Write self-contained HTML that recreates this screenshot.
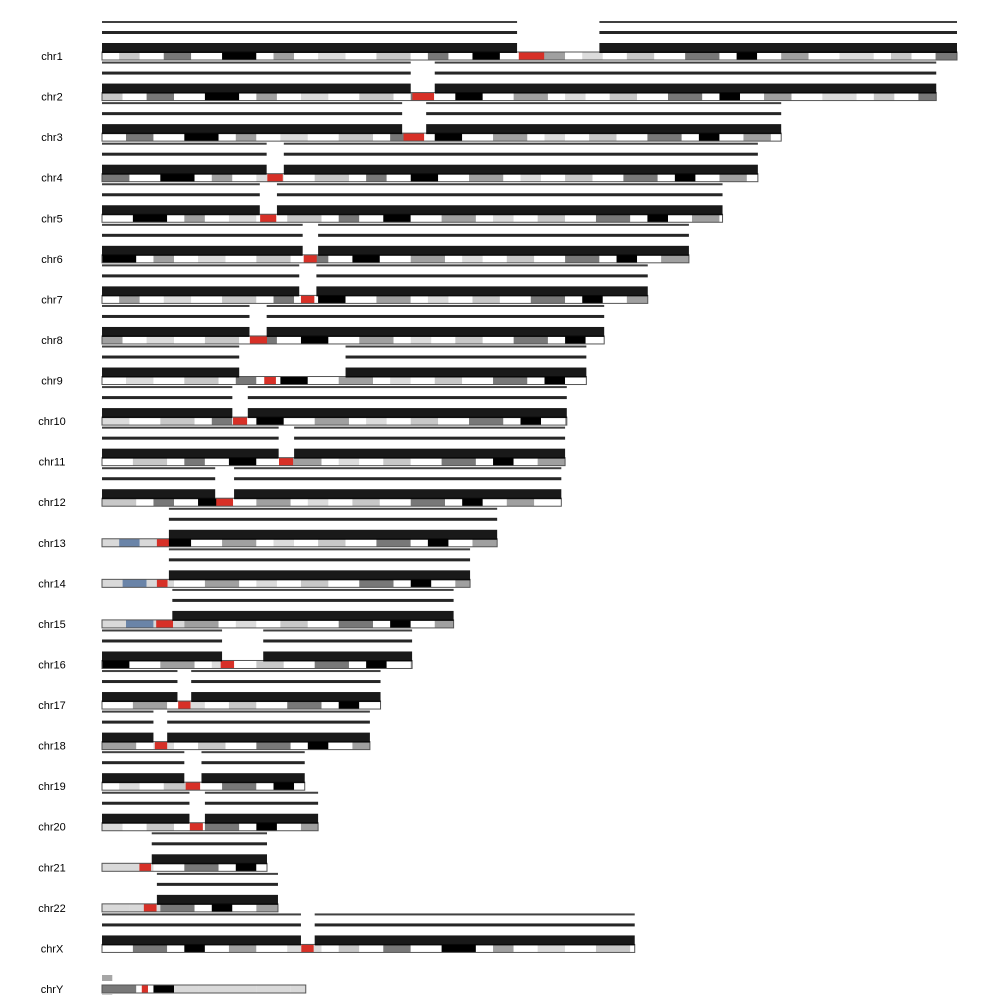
<!DOCTYPE html>
<html><head><meta charset="utf-8">
<style>
html,body{margin:0;padding:0;background:#fff;}
svg{display:block;font-family:"Liberation Sans",sans-serif;}
</style></head>
<body>
<svg id="plot" width="1008" height="1008" viewBox="0 0 1008 1008" xmlns="http://www.w3.org/2000/svg"></svg>
<script>
const chrNames = ["chr1","chr2","chr3","chr4","chr5","chr6","chr7","chr8","chr9","chr10","chr11","chr12","chr13","chr14","chr15","chr16","chr17","chr18","chr19","chr20","chr21","chr22","chrX","chrY"];
const chrLengths = [249.25,243.2,198.0,191.2,180.9,171.1,159.1,146.4,141.2,135.5,135.0,133.9,115.2,107.3,102.5,90.4,81.2,78.1,59.1,63.0,48.1,51.3,155.3,59.4];
const centroStart = [121.5,90.5,87.9,48.2,46.1,58.8,58.0,43.1,47.3,38.2,51.6,33.3,16.0,16.0,15.8,34.6,22.2,15.4,24.4,25.6,10.9,12.2,58.1,11.6];
const centroEnd = [128.9,96.8,93.9,52.7,50.8,62.6,61.9,48.1,50.7,42.3,55.7,38.2,19.5,19.1,20.7,38.5,25.8,19.0,28.6,29.4,14.3,15.9,61.7,13.4];
const dataStart = [0,0,0,0,0,0,0,0,0,0,0,0,19.5,19.5,20.5,0,0,0,0,0,14.5,16.0,0,0];
const gapStart = [121.0,90.0,87.5,48.0,46.0,58.5,57.5,43.0,40.0,38.0,51.5,33.0,0,0,0,35.0,22.0,15.0,24.0,25.5,0,0,58.0,3];
const gapEnd = [145.0,97.0,94.5,53.0,51.0,63.0,62.5,48.0,71.0,42.5,56.0,38.5,0,0,0,47.0,26.0,19.0,29.0,30.0,0,0,62.0,60];
const acro = [false,false,false,false,false,false,false,false,false,false,false,false,true,true,true,false,false,false,false,false,true,true,false,false];

const svg = document.getElementById('plot');
const NS = "http://www.w3.org/2000/svg";
const x0 = 102, pxPerMb = 855/249.25;
const xScale = mb => x0 + mb*pxPerMb;
const yRow = i => 56 + i*(989-56)/23;
function mk(tag, attrs){const e=document.createElementNS(NS,tag);for(const k in attrs)e.setAttribute(k,attrs[k]);svg.appendChild(e);return e;}
const stains = ["#ffffff","#c8c8c8","#ffffff","#787878","#ffffff","#000000","#ffffff","#a0a0a0","#ffffff","#dcdcdc"];

chrNames.forEach((name,i)=>{
  const y = yRow(i), L = chrLengths[i];
  const lab = mk('text',{x:52,y:y+4,'text-anchor':'middle','font-size':11,fill:'#000'});
  lab.textContent = name;
  
  
  let pos = 0, k = i;
  while(pos < L){
    const w = Math.min(5 + (k*7)%6, L-pos);
    let col = stains[k%stains.length];
    if(acro[i] && pos < centroStart[i]) col = (pos > centroStart[i]*0.25 && pos < centroStart[i]*0.55) ? "#6a84a8" : "#d9d9d9";
    if(i===23 && pos>16) col = "#d9d9d9";
    const r = mk('rect',{x:xScale(pos),y:y-4,width:w*pxPerMb,height:8,fill:col});
    
    
    pos += w; k++;
  }
  const cen = mk('rect',{x:xScale(centroStart[i]),y:y-4,width:(centroEnd[i]-centroStart[i])*pxPerMb,height:8,fill:'#d73027'});
  
  
  const out = mk('rect',{x:xScale(0),y:y-4,width:L*pxPerMb,height:8,fill:'none',stroke:'#555','stroke-width':1});
  
  
  const segs = [];
  if(gapEnd[i] > gapStart[i] && gapStart[i] > dataStart[i]) { segs.push([dataStart[i],gapStart[i]]); if(gapEnd[i]<L) segs.push([gapEnd[i],L]); }
  else segs.push([dataStart[i],L]);
  const levels = i===23 ? [[-14,6,0.35],[5,1,0.2]] : [[-35,2,0.75],[-25,3,0.85],[-13,10,0.9]];
  segs.forEach(s=>{
    levels.forEach(lv=>{
      const p = mk('rect',{x:xScale(s[0]),y:y+lv[0],width:(s[1]-s[0])*pxPerMb,height:lv[1],fill:'#000','fill-opacity':lv[2]});
      
      
    });
  });
});
</script>
</body></html>
